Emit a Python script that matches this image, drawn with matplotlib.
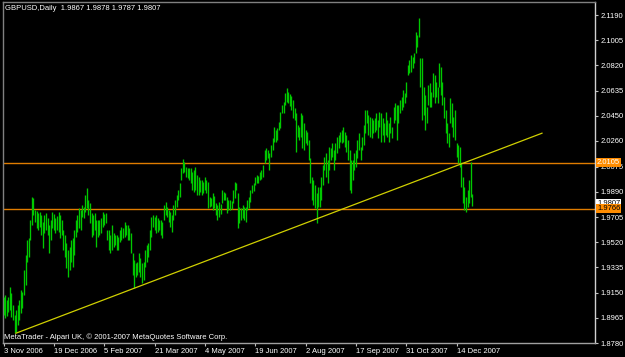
import matplotlib
matplotlib.use("Agg")
import matplotlib.pyplot as plt
import matplotlib.transforms as mtransforms

# GBPUSD daily bars (high / low), 3 Nov 2006 .. end Dec 2007
highs = [
    1.9117, 1.9132, 1.9095, 1.9117, 1.9191, 1.9146, 1.9058, 1.8985, 1.9021, 1.9058,
    1.9095, 1.9169, 1.9154, 1.9316, 1.9426, 1.9536, 1.9551, 1.9683, 1.9852, 1.9845,
    1.9757, 1.9749, 1.9734, 1.9742, 1.9720, 1.9668, 1.9720, 1.9734, 1.9698, 1.9646,
    1.9683, 1.9742, 1.9727, 1.9698, 1.9712, 1.9742, 1.9720, 1.9683, 1.9610, 1.9573,
    1.9514, 1.9463, 1.9485, 1.9536, 1.9551, 1.9610, 1.9683, 1.9720, 1.9771, 1.9757,
    1.9793, 1.9779, 1.9867, 1.9918, 1.9830, 1.9808, 1.9734, 1.9720, 1.9734, 1.9683,
    1.9683, 1.9683, 1.9698, 1.9742, 1.9727, 1.9734, 1.9610, 1.9610, 1.9573, 1.9646,
    1.9587, 1.9573, 1.9573, 1.9558, 1.9610, 1.9632, 1.9624, 1.9668, 1.9646, 1.9646,
    1.9624, 1.9587, 1.9440, 1.9389, 1.9367, 1.9374, 1.9440, 1.9404, 1.9367, 1.9374,
    1.9463, 1.9499, 1.9514, 1.9610, 1.9705, 1.9720, 1.9705, 1.9720, 1.9698, 1.9683,
    1.9683, 1.9668, 1.9793, 1.9815, 1.9779, 1.9757, 1.9742, 1.9720, 1.9793, 1.9830,
    1.9867, 1.9904, 1.9955, 2.0065, 2.0131, 2.0109, 2.0073, 2.0065,
    2.0065, 2.0065, 2.0036, 2.0051, 2.0073, 2.0014, 1.9999, 1.9977, 1.9977, 1.9962,
    1.9999, 1.9977, 1.9962, 1.9852, 1.9845, 1.9881, 1.9859, 1.9808, 1.9793, 1.9815,
    1.9801, 1.9904, 1.9889, 1.9881, 1.9852, 1.9830, 1.9830, 1.9823, 1.9904, 1.9962,
    1.9955, 1.9881, 1.9779, 1.9771, 1.9793, 1.9779, 1.9779, 1.9830, 1.9852, 1.9904,
    1.9940, 1.9955, 1.9999, 2.0014, 2.0006, 2.0036, 2.0051, 2.0087, 2.0198, 2.0212,
    2.0198, 2.0175, 2.0234, 2.0286, 2.0367, 2.0344, 2.0359, 2.0403, 2.0477, 2.0528,
    2.0550,
    2.0616, 2.0653, 2.0624, 2.0609, 2.0594, 2.0565, 2.0506, 2.0469, 2.0381, 2.0367,
    2.0469, 2.0455, 2.0396, 2.0345, 2.0330, 2.0271, 2.0139, 1.9999, 1.9977, 1.9940,
    1.9881, 1.9926, 1.9926, 1.9999, 2.0087, 2.0146, 2.0175, 2.0124, 2.0220, 2.0212,
    2.0249, 2.0198, 2.0249, 2.0293, 2.0308, 2.0330, 2.0345, 2.0367, 2.0330, 2.0308,
    2.0271, 2.0198, 2.0124, 2.0124, 2.0175, 2.0198, 2.0271, 2.0322, 2.0220, 2.0293,
    2.0381, 2.0492, 2.0492, 2.0455, 2.0440, 2.0433, 2.0418, 2.0433, 2.0469, 2.0418,
    2.0477, 2.0469, 2.0433,
    2.0396, 2.0477, 2.0418, 2.0396, 2.0440, 2.0367, 2.0514, 2.0543, 2.0528, 2.0528,
    2.0565, 2.0587, 2.0638, 2.0616, 2.0697, 2.0822, 2.0859, 2.0896, 2.0881, 2.0910,
    2.1065, 2.1043, 2.1168, 2.0874, 2.0874, 2.0661, 2.0602, 2.0514, 2.0675, 2.0690,
    2.0624, 2.0763, 2.0749, 2.0697, 2.0661, 2.0837, 2.0808, 2.0697, 2.0587, 2.0492,
    2.0396, 2.0322, 2.0580, 2.0543, 2.0440, 2.0492, 2.0249, 2.0234, 2.0220, 2.0102,
    1.9999, 1.9926, 1.9852, 1.9904, 1.9977, 2.0109, 1.9878,
]
lows = [
    1.8985, 1.8963, 1.8977, 1.9007, 1.9021, 1.8970, 1.8948, 1.8852, 1.8860, 1.8911,
    1.8948, 1.8999, 1.9036, 1.9132, 1.9205, 1.9374, 1.9411, 1.9536, 1.9646, 1.9720,
    1.9668, 1.9624, 1.9610, 1.9632, 1.9573, 1.9477, 1.9587, 1.9610, 1.9573, 1.9440,
    1.9536, 1.9624, 1.9610, 1.9587, 1.9610, 1.9595, 1.9551, 1.9573, 1.9463, 1.9411,
    1.9330, 1.9264, 1.9316, 1.9374, 1.9338, 1.9426, 1.9558, 1.9595, 1.9624, 1.9610,
    1.9705, 1.9698, 1.9742, 1.9771, 1.9720, 1.9661, 1.9558, 1.9573, 1.9610, 1.9485,
    1.9558, 1.9573, 1.9587, 1.9632, 1.9646, 1.9661, 1.9536, 1.9463, 1.9440, 1.9463,
    1.9485, 1.9499, 1.9463, 1.9463, 1.9521, 1.9536, 1.9551, 1.9558, 1.9573, 1.9536,
    1.9536, 1.9440, 1.9279, 1.9183, 1.9264, 1.9279, 1.9301, 1.9264, 1.9220, 1.9242,
    1.9338, 1.9374, 1.9411, 1.9463, 1.9558, 1.9632, 1.9610, 1.9587, 1.9595, 1.9610,
    1.9573, 1.9551, 1.9683, 1.9720, 1.9705, 1.9668, 1.9632, 1.9595, 1.9683, 1.9720,
    1.9779, 1.9830, 1.9852, 1.9977, 2.0028, 2.0036, 1.9999, 1.9992,
    1.9977, 1.9955, 1.9904, 1.9889, 1.9904, 1.9867, 1.9867, 1.9889, 1.9867, 1.9881,
    1.9904, 1.9881, 1.9771, 1.9779, 1.9786, 1.9757, 1.9771, 1.9720, 1.9683, 1.9705,
    1.9727, 1.9808, 1.9830, 1.9830, 1.9734, 1.9757, 1.9757, 1.9764, 1.9808, 1.9845,
    1.9904, 1.9624, 1.9661, 1.9683, 1.9698, 1.9683, 1.9668, 1.9757, 1.9771, 1.9815,
    1.9881, 1.9896, 1.9940, 1.9955, 1.9955, 1.9977, 1.9984, 1.9999, 2.0102, 2.0124,
    2.0139, 2.0051, 2.0146, 2.0198, 2.0256, 2.0256, 2.0271, 2.0345, 2.0359, 2.0469,
    2.0469,
    2.0528, 2.0550, 2.0543, 2.0521, 2.0492, 2.0433, 2.0418, 2.0183, 2.0293, 2.0271,
    2.0293, 2.0212, 2.0198, 2.0249, 2.0234, 2.0124, 1.9955, 1.9830, 1.9793, 1.9771,
    1.9661, 1.9779, 1.9779, 1.9830, 1.9940, 2.0051, 1.9999, 1.9955, 2.0051, 2.0124,
    2.0146, 2.0051, 2.0124, 2.0175, 2.0212, 2.0256, 2.0249, 2.0256, 2.0220, 2.0183,
    2.0124, 1.9904, 1.9881, 1.9977, 2.0051, 2.0073, 2.0139, 2.0198, 2.0124, 2.0198,
    2.0234, 2.0322, 2.0396, 2.0308, 2.0293, 2.0286, 2.0322, 2.0330, 2.0345, 2.0286,
    2.0367, 2.0256, 2.0308,
    2.0256, 2.0308, 2.0293, 2.0256, 2.0322, 2.0286, 2.0396, 2.0418, 2.0271, 2.0396,
    2.0469, 2.0492, 2.0514, 2.0543, 2.0587, 2.0749, 2.0763, 2.0771, 2.0800, 2.0837,
    2.0910, 2.0955, 2.1028, 2.0661, 2.0418, 2.0455, 2.0345, 2.0396, 2.0528, 2.0514,
    2.0514, 2.0587, 2.0543, 2.0587, 2.0543, 2.0661, 2.0602, 2.0528, 2.0433, 2.0322,
    2.0249, 2.0220, 2.0396, 2.0367, 2.0293, 2.0271, 2.0146, 2.0102, 2.0073, 1.9926,
    1.9808, 1.9757, 1.9742, 1.9779, 1.9808, 1.9852, 1.9787,
]

date_labels = ["3 Nov 2006", "19 Dec 2006", "5 Feb 2007", "21 Mar 2007", "4 May 2007",
               "19 Jun 2007", "2 Aug 2007", "17 Sep 2007", "31 Oct 2007", "14 Dec 2007"]
bars_per_label = 32

price_ticks = [2.1190, 2.1005, 2.0820, 2.0635, 2.0450, 2.0265, 2.0075,
               1.9890, 1.9705, 1.9520, 1.9335, 1.9150, 1.8965, 1.8780]
price_labels = ["2.1190", "2.1005", "2.0820", "2.0635", "2.0450", "2.0260", "2.0075",
                "1.9890", "1.9705", "1.9520", "1.9335", "1.9150", "1.8965", "1.8780"]

hlines = [2.0105, 1.9766]
last_price = 1.9807
# trend line: (bar index, price) at both ends
trend_x = [7.9, 342.3]
trend_y = [1.8852, 2.0322]

header = "GBPUSD,Daily  1.9867 1.9878 1.9787 1.9807"
footer = "MetaTrader - Alpari UK, \u00a9 2001-2007 MetaQuotes Software Corp."

font = "Liberation Sans"
fs = 5.5

fig = plt.figure(figsize=(6.25, 3.57), dpi=100, facecolor="black")
ax = fig.add_axes([3 / 625, 14 / 357, 592 / 625, 341 / 357])
ax.set_facecolor("black")

idx = list(range(len(highs)))
ax.vlines(idx, lows, highs, color="#00c800", linewidth=0.95, zorder=3)

for p in hlines:
    ax.axhline(p, color="#e07c00", linewidth=1.0, zorder=2)
ax.plot(trend_x, trend_y, color="#d0d000", linewidth=0.9, zorder=4)

ax.set_xlim(-0.32, 376.0)
ax.set_ylim(1.8780, 1.8780 + 341 * 0.000735)

ax.set_xticks([i * bars_per_label for i in range(len(date_labels))])
ax.set_xticklabels(date_labels, fontsize=fs, family=font, color="white")
shift = mtransforms.ScaledTranslation(-2 / 72, 0, fig.dpi_scale_trans)
for lab in ax.get_xticklabels():
    lab.set_horizontalalignment("left")
    lab.set_transform(lab.get_transform() + shift)
ax.tick_params(axis="x", direction="out", length=2.5, width=0.8, color="#c0c0c0", pad=1)

ax.yaxis.tick_right()
ax.set_yticks(price_ticks)
ax.set_yticklabels(price_labels, fontsize=fs, family=font, color="white")
ax.tick_params(axis="y", direction="out", length=2.5, width=0.8, color="#c0c0c0", pad=1.5)

for side in ["left", "top"]:
    ax.spines[side].set_color("#808080")
ax.spines["bottom"].set_color("#a0a0a0")
ax.spines["right"].set_color("#d0d0d0")
for s in ax.spines.values():
    s.set_linewidth(1.0)

trans = mtransforms.blended_transform_factory(ax.transAxes, ax.transData)
ax.text(1.0035, last_price, "%.4f" % last_price, transform=trans, ha="left", va="center",
        fontsize=fs, family=font, color="black", clip_on=False, zorder=6,
        bbox=dict(boxstyle="square,pad=0.12", fc="white", ec="none"))
ax.text(1.0035, hlines[0], "%.4f" % hlines[0], transform=trans, ha="left", va="center",
        fontsize=fs, family=font, color="white", clip_on=False, zorder=6,
        bbox=dict(boxstyle="square,pad=0.12", fc="#ff8c00", ec="none"))
ax.text(1.0035, hlines[1], "%.4f" % hlines[1], transform=trans, ha="left", va="center",
        fontsize=fs, family=font, color="black", clip_on=False, zorder=7,
        bbox=dict(boxstyle="square,pad=0.12", fc="#ff8c00", ec="none"))

fig.text(5 / 625, 1 - 8 / 357, header, fontsize=fs, family=font, color="white",
         ha="left", va="center")
ax.text(4 / 625, 1 - 337 / 357, footer, transform=fig.transFigure, fontsize=fs,
        family=font, color="white", ha="left", va="center", zorder=8)

fig.savefig("out.png", dpi=100, facecolor="black")
